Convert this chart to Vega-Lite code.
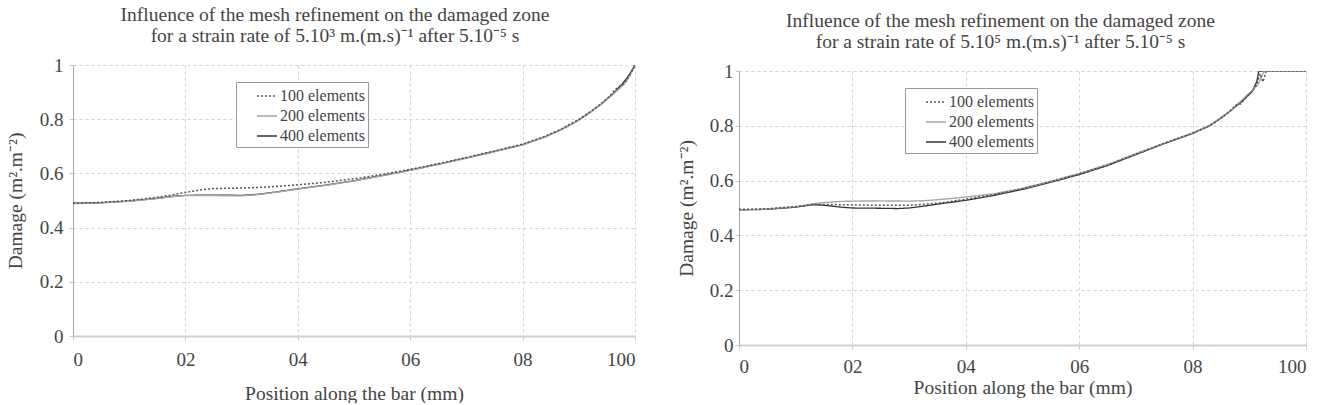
{
  "$schema": "https://vega.github.io/schema/vega-lite/v6.json",
  "background": "white",
  "padding": {"left": 5, "top": 3, "right": 0, "bottom": 0},
  "config": {
    "font": "Liberation Serif",
    "view": {"stroke": null},
    "axis": {
      "labelFont": "Liberation Serif", "labelFontSize": 19, "labelColor": "#444",
      "titleFont": "Liberation Serif", "titleFontSize": 19.5, "titleFontWeight": "normal", "titleColor": "#444",
      "gridColor": "#d4d4d4", "gridDash": [3, 3], "gridWidth": 1,
      "domainColor": "#aaa", "tickColor": "#c8c8c8", "tickSize": 4
    },
    "axisX": {"domainColor": "#cfcfcf", "domainWidth": 2},
    "title": {"font": "Liberation Serif", "fontSize": 19.5, "fontWeight": "normal", "color": "#444", "lineHeight": 21, "anchor": "middle"},
    "legend": {
      "title": null, "symbolType": "stroke", "symbolSize": 400, "labelFont": "Liberation Serif",
      "labelFontSize": 16, "labelColor": "#444", "strokeColor": "#999", "fillColor": "white",
      "padding": 3, "rowPadding": 1, "labelOffset": 2, "symbolOffset": 17
    }
  },
  "datasets": {
    "left": [
      {"x": 0, "d": 0.490, "s": "400 elements"}, {"x": 5, "d": 0.492, "s": "400 elements"}, {"x": 10, "d": 0.498, "s": "400 elements"}, {"x": 15, "d": 0.508, "s": "400 elements"}, {"x": 18, "d": 0.516, "s": "400 elements"}, {"x": 20, "d": 0.519, "s": "400 elements"}, {"x": 25, "d": 0.520, "s": "400 elements"}, {"x": 30, "d": 0.519, "s": "400 elements"}, {"x": 33, "d": 0.523, "s": "400 elements"}, {"x": 36, "d": 0.531, "s": "400 elements"}, {"x": 40, "d": 0.543, "s": "400 elements"}, {"x": 45, "d": 0.557, "s": "400 elements"}, {"x": 50, "d": 0.573, "s": "400 elements"}, {"x": 55, "d": 0.592, "s": "400 elements"}, {"x": 60, "d": 0.612, "s": "400 elements"}, {"x": 65, "d": 0.634, "s": "400 elements"}, {"x": 70, "d": 0.657, "s": "400 elements"}, {"x": 75, "d": 0.681, "s": "400 elements"}, {"x": 80, "d": 0.706, "s": "400 elements"}, {"x": 84, "d": 0.735, "s": "400 elements"}, {"x": 87, "d": 0.763, "s": "400 elements"}, {"x": 90, "d": 0.797, "s": "400 elements"}, {"x": 92, "d": 0.825, "s": "400 elements"}, {"x": 94, "d": 0.856, "s": "400 elements"}, {"x": 96, "d": 0.892, "s": "400 elements"}, {"x": 97.5, "d": 0.925, "s": "400 elements"}, {"x": 98.5, "d": 0.950, "s": "400 elements"}, {"x": 99.3, "d": 0.975, "s": "400 elements"}, {"x": 100, "d": 1.0, "s": "400 elements"},
      {"x": 0, "d": 0.488, "s": "200 elements"}, {"x": 5, "d": 0.491, "s": "200 elements"}, {"x": 10, "d": 0.497, "s": "200 elements"}, {"x": 15, "d": 0.507, "s": "200 elements"}, {"x": 18, "d": 0.515, "s": "200 elements"}, {"x": 20, "d": 0.518, "s": "200 elements"}, {"x": 25, "d": 0.518, "s": "200 elements"}, {"x": 30, "d": 0.517, "s": "200 elements"}, {"x": 33, "d": 0.522, "s": "200 elements"}, {"x": 36, "d": 0.530, "s": "200 elements"}, {"x": 40, "d": 0.542, "s": "200 elements"}, {"x": 45, "d": 0.556, "s": "200 elements"}, {"x": 50, "d": 0.572, "s": "200 elements"}, {"x": 55, "d": 0.591, "s": "200 elements"}, {"x": 60, "d": 0.611, "s": "200 elements"}, {"x": 65, "d": 0.633, "s": "200 elements"}, {"x": 70, "d": 0.656, "s": "200 elements"}, {"x": 75, "d": 0.680, "s": "200 elements"}, {"x": 80, "d": 0.705, "s": "200 elements"}, {"x": 84, "d": 0.734, "s": "200 elements"}, {"x": 87, "d": 0.762, "s": "200 elements"}, {"x": 90, "d": 0.796, "s": "200 elements"}, {"x": 92, "d": 0.824, "s": "200 elements"}, {"x": 94, "d": 0.855, "s": "200 elements"}, {"x": 96, "d": 0.890, "s": "200 elements"}, {"x": 97.5, "d": 0.918, "s": "200 elements"}, {"x": 98.5, "d": 0.940, "s": "200 elements"}, {"x": 99.3, "d": 0.970, "s": "200 elements"}, {"x": 100, "d": 0.995, "s": "200 elements"},
      {"x": 0, "d": 0.490, "s": "100 elements"}, {"x": 5, "d": 0.493, "s": "100 elements"}, {"x": 10, "d": 0.500, "s": "100 elements"}, {"x": 15, "d": 0.512, "s": "100 elements"}, {"x": 18, "d": 0.522, "s": "100 elements"}, {"x": 20, "d": 0.530, "s": "100 elements"}, {"x": 23, "d": 0.540, "s": "100 elements"}, {"x": 25, "d": 0.544, "s": "100 elements"}, {"x": 30, "d": 0.546, "s": "100 elements"}, {"x": 35, "d": 0.550, "s": "100 elements"}, {"x": 40, "d": 0.558, "s": "100 elements"}, {"x": 45, "d": 0.567, "s": "100 elements"}, {"x": 50, "d": 0.580, "s": "100 elements"}, {"x": 55, "d": 0.596, "s": "100 elements"}, {"x": 60, "d": 0.615, "s": "100 elements"}, {"x": 65, "d": 0.636, "s": "100 elements"}, {"x": 70, "d": 0.659, "s": "100 elements"}, {"x": 75, "d": 0.683, "s": "100 elements"}, {"x": 80, "d": 0.708, "s": "100 elements"}, {"x": 84, "d": 0.737, "s": "100 elements"}, {"x": 87, "d": 0.765, "s": "100 elements"}, {"x": 90, "d": 0.799, "s": "100 elements"}, {"x": 92, "d": 0.827, "s": "100 elements"}, {"x": 94, "d": 0.858, "s": "100 elements"}, {"x": 95.5, "d": 0.885, "s": "100 elements"}, {"x": 96.5, "d": 0.910, "s": "100 elements"}, {"x": 97.3, "d": 0.922, "s": "100 elements"}, {"x": 98, "d": 0.930, "s": "100 elements"}, {"x": 99, "d": 0.960, "s": "100 elements"}, {"x": 100, "d": 1.0, "s": "100 elements"}
    ],
    "right": [
      {"x": 0, "d": 0.493, "s": "400 elements"}, {"x": 5, "d": 0.495, "s": "400 elements"}, {"x": 10, "d": 0.503, "s": "400 elements"}, {"x": 13, "d": 0.512, "s": "400 elements"}, {"x": 15, "d": 0.510, "s": "400 elements"}, {"x": 18, "d": 0.503, "s": "400 elements"}, {"x": 20, "d": 0.500, "s": "400 elements"}, {"x": 25, "d": 0.499, "s": "400 elements"}, {"x": 28, "d": 0.498, "s": "400 elements"}, {"x": 30, "d": 0.500, "s": "400 elements"}, {"x": 33, "d": 0.508, "s": "400 elements"}, {"x": 36, "d": 0.517, "s": "400 elements"}, {"x": 40, "d": 0.528, "s": "400 elements"}, {"x": 45, "d": 0.546, "s": "400 elements"}, {"x": 50, "d": 0.568, "s": "400 elements"}, {"x": 55, "d": 0.594, "s": "400 elements"}, {"x": 60, "d": 0.622, "s": "400 elements"}, {"x": 65, "d": 0.655, "s": "400 elements"}, {"x": 70, "d": 0.695, "s": "400 elements"}, {"x": 75, "d": 0.735, "s": "400 elements"}, {"x": 80, "d": 0.772, "s": "400 elements"}, {"x": 83, "d": 0.800, "s": "400 elements"}, {"x": 85, "d": 0.828, "s": "400 elements"}, {"x": 87, "d": 0.860, "s": "400 elements"}, {"x": 89, "d": 0.895, "s": "400 elements"}, {"x": 90.5, "d": 0.925, "s": "400 elements"}, {"x": 91.3, "d": 0.960, "s": "400 elements"}, {"x": 91.7, "d": 1.0, "s": "400 elements"}, {"x": 100, "d": 1.0, "s": "400 elements"},
      {"x": 0, "d": 0.493, "s": "200 elements"}, {"x": 5, "d": 0.496, "s": "200 elements"}, {"x": 10, "d": 0.505, "s": "200 elements"}, {"x": 13, "d": 0.515, "s": "200 elements"}, {"x": 15, "d": 0.520, "s": "200 elements"}, {"x": 18, "d": 0.524, "s": "200 elements"}, {"x": 20, "d": 0.525, "s": "200 elements"}, {"x": 25, "d": 0.526, "s": "200 elements"}, {"x": 30, "d": 0.525, "s": "200 elements"}, {"x": 33, "d": 0.527, "s": "200 elements"}, {"x": 36, "d": 0.532, "s": "200 elements"}, {"x": 40, "d": 0.540, "s": "200 elements"}, {"x": 45, "d": 0.552, "s": "200 elements"}, {"x": 50, "d": 0.572, "s": "200 elements"}, {"x": 55, "d": 0.598, "s": "200 elements"}, {"x": 60, "d": 0.626, "s": "200 elements"}, {"x": 65, "d": 0.659, "s": "200 elements"}, {"x": 70, "d": 0.698, "s": "200 elements"}, {"x": 75, "d": 0.737, "s": "200 elements"}, {"x": 80, "d": 0.774, "s": "200 elements"}, {"x": 83, "d": 0.802, "s": "200 elements"}, {"x": 85, "d": 0.830, "s": "200 elements"}, {"x": 87, "d": 0.862, "s": "200 elements"}, {"x": 89, "d": 0.900, "s": "200 elements"}, {"x": 90.5, "d": 0.930, "s": "200 elements"}, {"x": 91.5, "d": 0.950, "s": "200 elements"}, {"x": 92.2, "d": 0.980, "s": "200 elements"}, {"x": 92.6, "d": 1.0, "s": "200 elements"}, {"x": 100, "d": 1.0, "s": "200 elements"},
      {"x": 0, "d": 0.495, "s": "100 elements"}, {"x": 5, "d": 0.497, "s": "100 elements"}, {"x": 10, "d": 0.505, "s": "100 elements"}, {"x": 13, "d": 0.513, "s": "100 elements"}, {"x": 15, "d": 0.513, "s": "100 elements"}, {"x": 18, "d": 0.512, "s": "100 elements"}, {"x": 20, "d": 0.511, "s": "100 elements"}, {"x": 25, "d": 0.510, "s": "100 elements"}, {"x": 30, "d": 0.510, "s": "100 elements"}, {"x": 33, "d": 0.514, "s": "100 elements"}, {"x": 36, "d": 0.520, "s": "100 elements"}, {"x": 40, "d": 0.532, "s": "100 elements"}, {"x": 45, "d": 0.549, "s": "100 elements"}, {"x": 50, "d": 0.570, "s": "100 elements"}, {"x": 55, "d": 0.596, "s": "100 elements"}, {"x": 60, "d": 0.624, "s": "100 elements"}, {"x": 65, "d": 0.657, "s": "100 elements"}, {"x": 70, "d": 0.697, "s": "100 elements"}, {"x": 75, "d": 0.736, "s": "100 elements"}, {"x": 80, "d": 0.773, "s": "100 elements"}, {"x": 83, "d": 0.800, "s": "100 elements"}, {"x": 85, "d": 0.828, "s": "100 elements"}, {"x": 86.5, "d": 0.850, "s": "100 elements"}, {"x": 87.5, "d": 0.875, "s": "100 elements"}, {"x": 88.5, "d": 0.880, "s": "100 elements"}, {"x": 89.5, "d": 0.905, "s": "100 elements"}, {"x": 90.5, "d": 0.925, "s": "100 elements"}, {"x": 91.3, "d": 0.950, "s": "100 elements"}, {"x": 91.9, "d": 0.990, "s": "100 elements"}, {"x": 92.4, "d": 0.960, "s": "100 elements"}, {"x": 93, "d": 1.0, "s": "100 elements"}, {"x": 100, "d": 1.0, "s": "100 elements"}
    ]
  },
  "hconcat": [
    {
      "spacing": 0,
      "resolve": {"scale": {"color": "independent", "strokeDash": "independent", "strokeWidth": "independent"}},
      "vconcat": [
        {"width": 562, "height": 1, "data": {"values": []}, "mark": "rule", "encoding": {}},
        {
          "width": 562, "height": 271,
          "title": {"text": ["Influence of the mesh refinement on the damaged zone", "for a strain rate of 5.10³ m.(m.s)⁻¹ after 5.10⁻⁵ s"], "dx": -19, "offset": 10},
          "data": {"name": "left"},
          "mark": {"type": "line", "clip": true},
          "encoding": {
            "x": {"field": "x", "type": "quantitative", "scale": {"domain": [0, 100], "nice": false},
              "axis": {"values": [0, 20, 40, 60, 80, 100], "labelExpr": "datum.value === 0 ? '0' : datum.value === 100 ? '100' : '0' + (datum.value / 10)", "title": "Position along the bar (mm)", "labelPadding": 10, "titlePadding": 15}},
            "y": {"field": "d", "type": "quantitative", "scale": {"domain": [0, 1], "nice": false},
              "axis": {"values": [0, 0.2, 0.4, 0.6, 0.8, 1], "labelExpr": "datum.value === 0 ? '0' : datum.value === 1 ? '1' : format(datum.value, '.1f')", "title": "Damage (m².m⁻²)", "labelPadding": 6, "titlePadding": 14}},
            "color": {"field": "s", "type": "nominal", "scale": {"domain": ["100 elements", "200 elements", "400 elements"], "range": ["#555555", "#a6a6a6", "#333333"]},
              "legend": {"orient": "none", "legendX": 163, "legendY": 17}},
            "strokeDash": {"field": "s", "type": "nominal", "scale": {"domain": ["100 elements", "200 elements", "400 elements"], "range": [[2, 2], [1, 0], [1, 0]]},
              "legend": {"orient": "none", "legendX": 163, "legendY": 17}},
            "strokeWidth": {"field": "s", "type": "nominal", "scale": {"domain": ["100 elements", "200 elements", "400 elements"], "range": [1.5, 1.3, 2.2]},
              "legend": {"orient": "none", "legendX": 163, "legendY": 17}}
          }
        }
      ]
    },
    {
      "spacing": 0,
      "resolve": {"scale": {"color": "independent", "strokeDash": "independent", "strokeWidth": "independent"}},
      "vconcat": [
        {"width": 567, "height": 7, "data": {"values": []}, "mark": "rule", "encoding": {}},
        {
          "width": 567, "height": 274,
          "title": {"text": ["Influence of the mesh refinement on the damaged zone", "for a strain rate of 5.10⁵ m.(m.s)⁻¹ after 5.10⁻⁵ s"], "dx": -22, "offset": 10},
          "data": {"name": "right"},
          "mark": {"type": "line", "clip": true},
          "encoding": {
            "x": {"field": "x", "type": "quantitative", "scale": {"domain": [0, 100], "nice": false},
              "axis": {"values": [0, 20, 40, 60, 80, 100], "labelExpr": "datum.value === 0 ? '0' : datum.value === 100 ? '100' : '0' + (datum.value / 10)", "title": "Position along the bar (mm)", "labelPadding": 8, "titlePadding": 2}},
            "y": {"field": "d", "type": "quantitative", "scale": {"domain": [0, 1], "nice": false},
              "axis": {"values": [0, 0.2, 0.4, 0.6, 0.8, 1], "labelExpr": "datum.value === 0 ? '0' : datum.value === 1 ? '1' : format(datum.value, '.1f')", "title": "Damage (m².m⁻²)", "labelPadding": 2, "titlePadding": 13}},
            "color": {"field": "s", "type": "nominal", "scale": {"domain": ["100 elements", "200 elements", "400 elements"], "range": ["#555555", "#a6a6a6", "#333333"]},
              "legend": {"orient": "none", "legendX": 166, "legendY": 17}},
            "strokeDash": {"field": "s", "type": "nominal", "scale": {"domain": ["100 elements", "200 elements", "400 elements"], "range": [[2, 2], [1, 0], [1, 0]]},
              "legend": {"orient": "none", "legendX": 166, "legendY": 17}},
            "strokeWidth": {"field": "s", "type": "nominal", "scale": {"domain": ["100 elements", "200 elements", "400 elements"], "range": [1.5, 1.3, 2.2]},
              "legend": {"orient": "none", "legendX": 166, "legendY": 17}}
          }
        }
      ]
    }
  ],
  "spacing": 40,
  "resolve": {"scale": {"color": "independent", "strokeDash": "independent", "strokeWidth": "independent", "x": "independent", "y": "independent"}}
}
